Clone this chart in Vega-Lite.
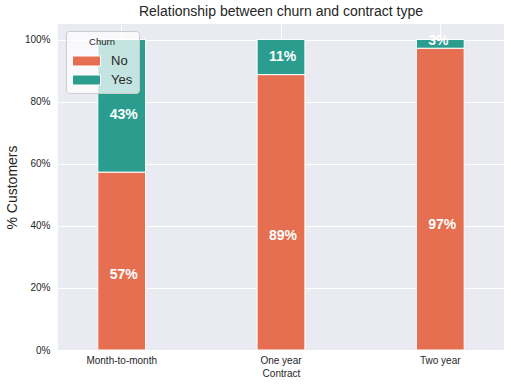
{
  "$schema": "https://vega.github.io/schema/vega-lite/v6.json",
  "width": 446,
  "height": 326,
  "autosize": {"type": "none"},
  "padding": {"left": 58, "top": 24, "right": 7, "bottom": 36},
  "background": "white",
  "title": {
    "text": "Relationship between churn and contract type",
    "font": "Liberation Sans",
    "fontSize": 14,
    "fontWeight": "normal",
    "color": "#262626",
    "anchor": "middle",
    "offset": 5
  },
  "config": {
    "view": {"fill": "#eaeaf2", "stroke": null},
    "font": "Liberation Sans",
    "axis": {
      "domain": false,
      "ticks": false,
      "grid": true,
      "gridColor": "white",
      "gridWidth": 1,
      "labelFont": "Liberation Sans",
      "labelFontSize": 10,
      "labelColor": "#262626",
      "titleFont": "Liberation Sans",
      "titleColor": "#262626",
      "titleFontWeight": "normal"
    }
  },
  "data": {
    "values": [
      {"Contract": "Month-to-month", "Churn": "No", "pct": 0.573},
      {"Contract": "Month-to-month", "Churn": "Yes", "pct": 0.427},
      {"Contract": "One year", "Churn": "No", "pct": 0.887},
      {"Contract": "One year", "Churn": "Yes", "pct": 0.113},
      {"Contract": "Two year", "Churn": "No", "pct": 0.972},
      {"Contract": "Two year", "Churn": "Yes", "pct": 0.028}
    ]
  },
  "transform": [
    {"stack": "pct", "groupby": ["Contract"], "sort": [{"field": "Churn", "order": "ascending"}], "as": ["y0", "y1"]},
    {"calculate": "datum.y0 + 0.4 * (datum.y1 - datum.y0)", "as": "labelY"}
  ],
  "encoding": {
    "x": {
      "field": "Contract",
      "type": "nominal",
      "sort": ["Month-to-month", "One year", "Two year"],
      "scale": {"paddingInner": 0.7, "paddingOuter": 0.25},
      "axis": {"labelAngle": 0, "title": "Contract", "titleFontSize": 10, "labelPadding": 5, "titlePadding": 3, "bandPosition": 0.5}
    }
  },
  "layer": [
    {
      "mark": {"type": "bar", "stroke": "white", "strokeWidth": 1},
      "encoding": {
        "y": {
          "field": "y0",
          "type": "quantitative",
          "scale": {"domain": [0, 1.05], "nice": false, "zero": true},
          "axis": {"values": [0, 0.2, 0.4, 0.6, 0.8, 1.0], "format": ".0%", "title": "% Customers", "titleFontSize": 14, "labelPadding": 8, "titlePadding": 5}
        },
        "y2": {"field": "y1"},
        "color": {
          "field": "Churn",
          "type": "nominal",
          "scale": {"domain": ["No", "Yes"], "range": ["#e76f51", "#2a9d8f"]},
          "legend": {
            "title": "Churn",
            "orient": "none",
            "legendX": 8,
            "legendY": 7,
            "direction": "vertical",
            "titleFontSize": 9.5,
            "titleFontWeight": "normal",
            "titleColor": "#262626",
            "titleAnchor": "middle",
            "titlePadding": 4,
            "labelFontSize": 13,
            "labelColor": "#262626",
            "labelOffset": 18,
            "symbolType": "M-1,-0.5L1.8,-0.5L1.8,0.5L-1,0.5Z",
            "symbolSize": 400,
            "symbolStrokeColor": "white",
            "symbolStrokeWidth": 1,
            "symbolOpacity": 1,
            "rowPadding": 1,
            "padding": 6,
            "fillColor": "rgba(255,255,255,0.72)",
            "strokeColor": "#cccccc",
            "cornerRadius": 3
          }
        }
      }
    },
    {
      "mark": {"type": "text", "color": "white", "fontWeight": "bold", "fontSize": 14, "font": "Liberation Sans", "align": "left", "baseline": "alphabetic", "dx": -12},
      "encoding": {
        "y": {"field": "labelY", "type": "quantitative"},
        "text": {"field": "pct", "type": "quantitative", "format": ".0%"}
      }
    }
  ]
}
